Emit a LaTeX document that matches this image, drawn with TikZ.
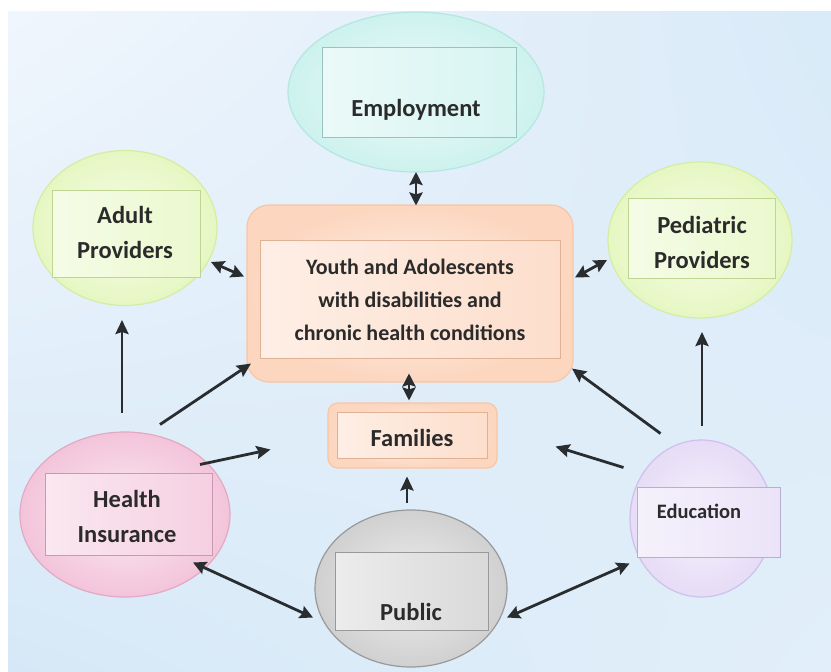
\documentclass[tikz,border=0pt]{standalone}
\usepackage{fontspec}
\setmainfont{Carlito}
\usetikzlibrary{arrows.meta,shapes.geometric,calc,shadings}
\definecolor{bgUL}{HTML}{F0F6FD}
\definecolor{bgUR}{HTML}{D9EAF8}
\definecolor{bgLL}{HTML}{D6E8F7}
\definecolor{bgLR}{HTML}{E2EFFA}
\definecolor{txt}{HTML}{2B2B2B}
\definecolor{arr}{HTML}{2A2D30}
\definecolor{cyanF}{HTML}{CDF2EE}\definecolor{cyanE}{HTML}{B5E6E1}
\definecolor{grnF}{HTML}{E6F7C2}\definecolor{grnE}{HTML}{D3EEA2}
\definecolor{pchF}{HTML}{FCD6BF}\definecolor{pchE}{HTML}{F8C6A6}
\definecolor{gryF}{HTML}{D0D0D0}\definecolor{gryE}{HTML}{999999}
\definecolor{pnkF}{HTML}{F3C4DA}\definecolor{pnkE}{HTML}{E3A9C4}
\definecolor{lavF}{HTML}{E6DCF6}\definecolor{lavE}{HTML}{CFC0EC}
\tikzset{
  oval/.style n args={4}{ellipse, draw=#2, line width=1.2pt, inner color=#1!35!white, outer color=#1,
     minimum width=#3, minimum height=#4, inner sep=0pt},
  inbox/.style n args={4}{rectangle, draw=#2, line width=1pt, left color=#1!40!white, right color=#1!80!white,
     minimum width=#3, minimum height=#4, inner sep=0pt},
  lbl/.style={text=txt, font=\bfseries\fontsize{24.5}{35}\selectfont, align=center, inner sep=0pt},
  conn/.style={draw=arr, line width=2.8pt, -{Stealth[length=14pt,width=13pt,inset=2pt]}},
  dconn/.style={draw=arr, line width=2.8pt, {Stealth[length=13pt,width=13pt,inset=2pt]}-{Stealth[length=13pt,width=13pt,inset=2pt]}}
}
\begin{document}
\begin{tikzpicture}[x=1pt,y=-1pt]
\useasboundingbox (0,0) rectangle (831,672);
\fill[white] (0,0) rectangle (831,672);
\shade[upper left=bgUL, upper right=bgUR, lower left=bgLL, lower right=bgLR] (8,11) rectangle (831,672);

% ellipses and boxes
\node[oval={cyanF}{cyanE}{256}{160}] (emp) at (416,92) {};
\node[inbox={cyanF}{cyanE!85!black}{194}{90}] (empB) at (419,92) {};
\node[lbl] (empT) at (416,110) {Employment};

\node[oval={grnF}{grnE}{184}{155}] (adult) at (125,228) {};
\node[inbox={grnF}{grnE!90!black}{148}{87}] (adultB) at (126,233.5) {};
\node[lbl] (adultT) at (125,232) {Adult\\Providers};

\node[oval={grnF}{grnE}{184}{156}] (ped) at (700,240) {};
\node[inbox={grnF}{grnE!90!black}{147}{80}] (pedB) at (701.5,238) {};
\node[lbl] (pedT) at (702,242) {Pediatric\\Providers};

\node[rectangle, rounded corners=22pt, draw=pchE, line width=1.2pt, inner color=pchF!30!white, outer color=pchF,
      minimum width=326, minimum height=177, inner sep=0pt] (youth) at (410,293.5) {};
\node[inbox={pchF}{pchE!90!black}{300}{118}] (youthB) at (410,299) {};
\node[lbl, font=\bfseries\fontsize{22}{33}\selectfont] (youthT) at (410,299.5) {Youth and Adolescents\\with disabilities and\\chronic health conditions};

\node[rectangle, rounded corners=10pt, draw=pchE, line width=1.2pt, inner color=pchF!30!white, outer color=pchF,
      minimum width=169, minimum height=65, inner sep=0pt] (fam) at (412.5,435.5) {};
\node[inbox={pchF}{pchE!90!black}{150}{46}] (famB) at (412,435) {};
\node[lbl] (famT) at (412,438) {Families};

\node[oval={gryF}{gryE}{192}{157}] (pub) at (411,588.5) {};
\node[inbox={gryF}{gryE}{153}{78}] (pubB) at (411.5,591) {};
\node[lbl] (pubT) at (411,612) {Public};

\node[oval={pnkF}{pnkE}{210}{165}] (health) at (125,514.5) {};
\node[inbox={pnkF}{pnkE!90!black}{167}{82}] (healthB) at (128.5,514) {};
\node[lbl] (healthT) at (127,516) {Health\\Insurance};

\node[oval={lavF}{lavE}{143}{157}] (edu) at (701.5,518.5) {};
\node[inbox={lavF}{lavE!90!black}{143}{70}] (eduB) at (708.5,522) {};
\node[lbl, font=\bfseries\fontsize{20.5}{26}\selectfont] (eduT) at (699,511) {Education};

% connectors
\draw[dconn] ($(emp.center)+(0,80)$) -- ($(youth.center)+(6,-88)$);
\draw[dconn] ($(adult.center)+(86,34)$) -- ($(youth.center)+(-166,-17)$);
\draw[dconn] ($(ped.center)+(-93,20)$) -- ($(youth.center)+(165,-16)$);
\draw[dconn] ($(youth.center)+(-1,80)$) -- ($(fam.center)+(-3.5,-35)$);
\draw[conn] ($(pub.center)+(-4,-86)$) -- ($(fam.center)+(-5.5,41)$);
\draw[conn] ($(health.center)+(-3,-102)$) -- ($(adult.center)+(-3,92)$);
\draw[conn] ($(health.center)+(35,-90)$) -- ($(youth.center)+(-159,70)$);
\draw[conn] ($(health.center)+(75,-50)$) -- ($(fam.center)+(-142,14)$);
\draw[dconn] ($(health.center)+(68,48)$) -- ($(pub.center)+(-98,29)$);
\draw[dconn] ($(pub.center)+(96,29)$) -- ($(edu.center)+(-72,45)$);
\draw[conn] ($(edu.center)+(0.5,-93)$) -- ($(ped.center)+(2,92)$);
\draw[conn] ($(edu.center)+(-41,-85)$) -- ($(youth.center)+(162,75)$);
\draw[conn] ($(edu.center)+(-78,-51)$) -- ($(fam.center)+(143,11)$);
\end{tikzpicture}
\end{document}
